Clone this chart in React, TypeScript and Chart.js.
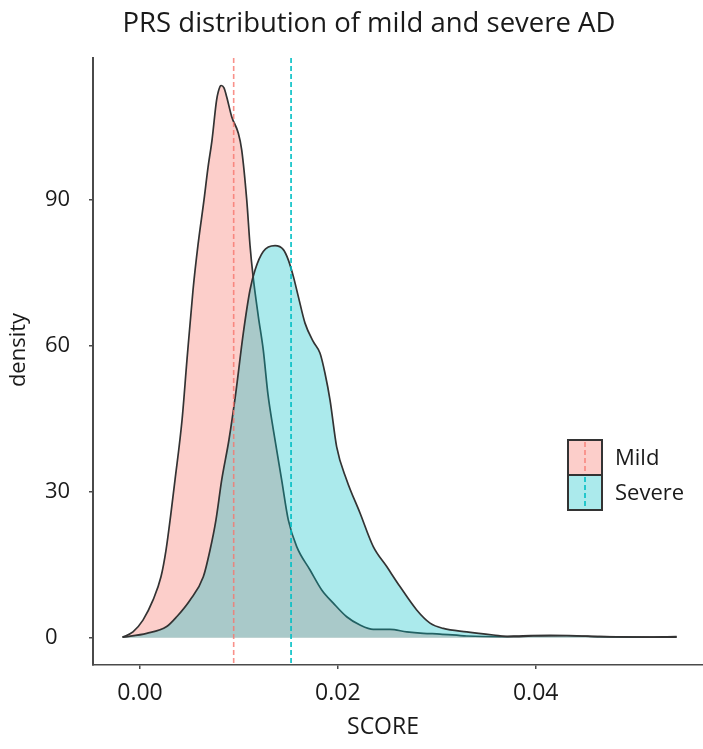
import React, { useEffect, useRef } from 'react';
import { Chart, registerables } from 'chart.js';

Chart.register(...registerables);

const TITLE = 'PRS distribution of mild and severe AD';
const X_TITLE = 'SCORE';
const Y_TITLE = 'density';
const GROUPS = ['Mild', 'Severe'];
const X_TICKS = [0, 0.02, 0.04];
const Y_TICKS = [0, 30, 60, 90];
const GROUP_MEANS = [0.00947, 0.01527];

const MILD_SCORE = [
  -0.00177, -0.00071, 0.0003, 0.00131, 0.00212, 0.00263, 0.00313, 0.00354, 0.00425, 0.00475,
  0.00536, 0.00586, 0.00647, 0.00687, 0.00728, 0.00775, 0.00809, 0.00822, 0.00849, 0.00876,
  0.00927, 0.00994, 0.01028, 0.01079, 0.01112, 0.01142, 0.01196, 0.01246, 0.01294, 0.01348,
  0.01432, 0.01499, 0.01584, 0.01719, 0.01837, 0.01954, 0.02089, 0.02224, 0.02358, 0.02527,
  0.02696, 0.02864, 0.03033, 0.03303, 0.03639, 0.03872, 0.04145, 0.04414, 0.0465, 0.04984, 0.05425,
];
const MILD_DENSITY = [
  0.1, 1.2, 3.6, 7.7, 12.5, 18.0, 25.6, 32.4, 44.7, 57.1,
  71.4, 80.6, 89.9, 96.5, 102.2, 110.5, 113.2, 113.4, 112.9, 111.1,
  107.0, 103.6, 100.2, 89.9, 80.6, 74.4, 66.0, 59.1, 49.9, 42.7,
  32.4, 24.2, 18.7, 13.9, 9.8, 7.1, 4.3, 2.6, 1.7, 1.7,
  1.2, 0.9, 0.75, 0.35, 0.2, 0.4, 0.5, 0.4, 0.2, 0.1, 0.2,
];

const SEVERE_SCORE = [
  -0.00177, 0.00068, 0.0027, 0.00371, 0.00505, 0.0064, 0.00708, 0.00768, 0.00826, 0.00899,
  0.00966, 0.01044, 0.01112, 0.01163, 0.01246, 0.01365, 0.01449, 0.01499, 0.0155, 0.016,
  0.01668, 0.01752, 0.0182, 0.0187, 0.01921, 0.01988, 0.02089, 0.02224, 0.02358, 0.02494,
  0.02628, 0.02797, 0.02932, 0.03066, 0.03303, 0.03571, 0.0374, 0.03973, 0.04313, 0.0465, 0.05425,
];
const SEVERE_DENSITY = [
  0.1, 0.9, 2.3, 4.3, 7.7, 12.5, 18.0, 24.2, 32.4, 40.6,
  49.9, 62.5, 71.4, 75.5, 79.3, 80.5, 79.7, 77.6, 74.2, 70.1,
  64.6, 60.8, 58.4, 54.3, 48.8, 39.2, 32.4, 25.6, 18.7, 14.6,
  10.5, 5.7, 3.0, 1.9, 1.2, 0.55, 0.2, 0.35, 0.4, 0.2, 0.1,
];

const GROUP_COLORS = ['#F8766D', '#00BFC4'];
const GROUP_FILLS = ['rgba(248,118,109,0.36)', 'rgba(0,191,196,0.33)'];
const FONT = '"Open Sans", "Noto Sans", sans-serif';
const INK = '#1a1a1a';
const AXIS = '#4a4a4a';
const OUTLINE = '#333333';

const pairs = (xs: number[], ys: number[]) => xs.map((x, i) => ({ x, y: ys[i] }));

const overlayPlugin = {
  id: 'overlay',
  afterDatasetsDraw(chart: any) {
    const { ctx, chartArea, scales } = chart;
    ctx.save();
    GROUP_MEANS.forEach((m, i) => {
      const px = scales.x.getPixelForValue(m);
      ctx.strokeStyle = GROUP_COLORS[i];
      ctx.globalAlpha = i === 0 ? 0.8 : 1;
      ctx.lineWidth = 1.6;
      ctx.setLineDash([5, 3]);
      ctx.beginPath();
      ctx.moveTo(px, chartArea.top);
      ctx.lineTo(px, chartArea.bottom);
      ctx.stroke();
    });
    ctx.globalAlpha = 1;
    ctx.setLineDash([]);
    ctx.restore();
  },
  afterDraw(chart: any) {
    const { ctx } = chart;
    ctx.save();
    ctx.fillStyle = INK;
    // chart title
    ctx.font = `27.5px ${FONT}`;
    ctx.textAlign = 'center';
    ctx.textBaseline = 'alphabetic';
    ctx.fillText(TITLE, 369, 32);
    // y axis title
    ctx.font = `22px ${FONT}`;
    ctx.textBaseline = 'middle';
    ctx.translate(19, 350);
    ctx.rotate(-Math.PI / 2);
    ctx.fillText(Y_TITLE, 0, 0);
    ctx.setTransform(1, 0, 0, 1, 0, 0);
    // x axis title
    ctx.font = `23px ${FONT}`;
    ctx.fillText(X_TITLE, 383, 727);
    // legend
    const bx = 568, bw = 34, bh = 35, by0 = 440;
    GROUPS.forEach((g, i) => {
      const by = by0 + i * bh;
      ctx.fillStyle = '#ffffff';
      ctx.fillRect(bx, by, bw, bh);
      ctx.fillStyle = GROUP_FILLS[i];
      ctx.fillRect(bx, by, bw, bh);
      ctx.strokeStyle = GROUP_COLORS[i];
      ctx.globalAlpha = i === 0 ? 0.8 : 1;
      ctx.lineWidth = 1.6;
      ctx.setLineDash([5, 3]);
      ctx.beginPath();
      ctx.moveTo(bx + bw / 2, by + 2);
      ctx.lineTo(bx + bw / 2, by + bh - 2);
      ctx.stroke();
      ctx.globalAlpha = 1;
      ctx.setLineDash([]);
      ctx.strokeStyle = OUTLINE;
      ctx.lineWidth = 2;
      ctx.strokeRect(bx, by, bw, bh);
      ctx.fillStyle = INK;
      ctx.font = `22px ${FONT}`;
      ctx.textAlign = 'left';
      ctx.textBaseline = 'middle';
      ctx.fillText(g, 615, by + bh / 2 + 1);
    });
    ctx.restore();
  },
};

export default function App() {
  const ref = useRef<HTMLCanvasElement | null>(null);
  useEffect(() => {
    if (!ref.current) return;
    // Severe listed first so the filler paints Mild underneath and Severe on top
    const chart = new Chart(ref.current, {
      type: 'line',
      data: {
        datasets: [
          {
            label: GROUPS[1],
            data: pairs(SEVERE_SCORE, SEVERE_DENSITY),
            borderColor: OUTLINE,
            borderWidth: 1.7,
            backgroundColor: GROUP_FILLS[1],
            fill: 'origin',
            pointRadius: 0,
            cubicInterpolationMode: 'monotone',
          },
          {
            label: GROUPS[0],
            data: pairs(MILD_SCORE, MILD_DENSITY),
            borderColor: OUTLINE,
            borderWidth: 1.7,
            backgroundColor: GROUP_FILLS[0],
            fill: 'origin',
            pointRadius: 0,
            cubicInterpolationMode: 'monotone',
          },
        ],
      },
      options: {
        responsive: false,
        animation: false,
        devicePixelRatio: 1,
        layout: { padding: { left: 45, top: 58, right: 0, bottom: 0 } },
        plugins: {
          legend: { display: false },
          tooltip: { enabled: false },
          title: { display: false },
        },
        scales: {
          x: {
            type: 'linear',
            min: -0.004751,
            max: 0.056912,
            afterBuildTicks: (s: any) => { s.ticks = X_TICKS.map((v) => ({ value: v })); },
            afterFit: (s: any) => { s.height = 84; },
            ticks: {
              color: INK,
              font: { family: FONT, size: 23 },
              padding: 11,
              maxRotation: 0,
              callback: (v: any) => Number(v).toFixed(2),
            },
            grid: { display: true, drawOnChartArea: false, drawTicks: true, tickLength: 4, color: AXIS, lineWidth: 1.5 },
            border: { display: true, color: AXIS, width: 1.5 },
          },
          y: {
            type: 'linear',
            min: -5.61,
            max: 119.05,
            afterBuildTicks: (s: any) => { s.ticks = Y_TICKS.map((v) => ({ value: v })); },
            afterFit: (s: any) => { s.width = 48; },
            ticks: {
              color: INK,
              font: { family: FONT, size: 22 },
              crossAlign: 'far',
            },
            grid: { display: true, drawOnChartArea: false, drawTicks: true, tickLength: 4, color: AXIS, lineWidth: 1.5 },
            border: { display: true, color: AXIS, width: 2 },
          },
        },
      },
      plugins: [overlayPlugin],
    } as any);
    return () => chart.destroy();
  }, []);
  return (
    <div style={{ position: 'fixed', left: 0, top: 0, width: 703, height: 749, background: '#fff' }}>
      <canvas ref={ref} width={703} height={749} style={{ display: 'block', width: 703, height: 749 }} />
    </div>
  );
}
